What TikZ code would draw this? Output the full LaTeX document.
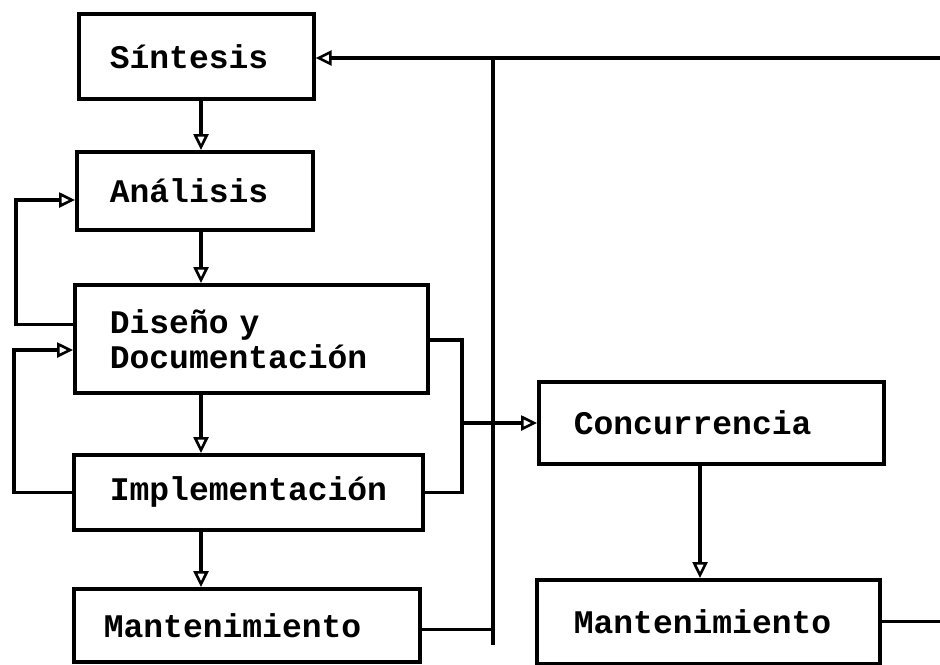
\documentclass[tikz,border=0pt]{standalone}
\usepackage{fontspec}
\setmonofont{Liberation Mono}
\usetikzlibrary{arrows.meta}
\begin{document}
\begin{tikzpicture}[x=0.5pt,y=-0.5pt,
  box/.style={draw, line width=1.8pt, anchor=north west, align=left,
    font=\ttfamily\bfseries\fontsize{16.5}{17.5}\selectfont,
    inner ysep=0pt},
  wire/.style={line width=1.6pt},
  arr/.style={wire, -{Triangle[open,length=8pt,width=7.5pt,line width=1.3pt]}}]
\useasboundingbox (0,0) rectangle (940,664);
% boxes (text width = w - 2*inner xsep)
\node[box, inner xsep=15.5pt, text width=86.5pt, minimum height=42.5pt] (sin) at (77,12) {Síntesis};
\node[box, inner xsep=16.5pt, text width=85pt, minimum height=39pt] (ana) at (75,150) {Análisis};
\node[box, inner xsep=17.5pt, text width=141.5pt, minimum height=54pt] (dis) at (73,283) {Diseño y\\Documentación};
\node[box, inner xsep=18pt, text width=138.5pt, minimum height=37.5pt] (imp) at (72,453) {Implementación};
\node[box, inner xsep=15pt, text width=143pt, minimum height=36.5pt] (manL) at (72,587) {Mantenimiento};
\node[box, inner xsep=17.5pt, text width=137.5pt, minimum height=41pt] (con) at (537,380) {Concurrencia};
\node[box, inner xsep=18.5pt, text width=134.5pt, minimum height=42pt] (manR) at (535,578) {Mantenimiento};
% helper coordinates
\coordinate (c1) at (201,0);
\coordinate (topR) at (940,58);
\coordinate (vt) at (493,58);
\coordinate (vb) at (493,645);
\coordinate (l1) at (16,200);
\coordinate (l2) at (14,350);
\coordinate (r1) at (462,340);
\coordinate (rb) at (462,423);
\coordinate (c2) at (700,0);
\coordinate (outR) at (940,0);
% main chain
\draw[arr] (sin.south -| c1) -- (ana.north -| c1);
\draw[arr] (ana.south -| c1) -- (dis.north -| c1);
\draw[arr] (dis.south -| c1) -- (imp.north -| c1);
\draw[arr] (imp.south -| c1) -- (manL.north -| c1);
% top feedback line
\draw[arr] (topR) -- (topR -| sin.east);
\draw[wire] (vt) -- (vb);
\draw[wire] ([yshift=-2pt]manL.east) -- ([yshift=-2pt]manL.east -| vb);
% left loops
\draw[arr] ([yshift=7pt]dis.west) -| (l1) -- (l1 -| ana.west);
\draw[arr] (imp.west) -| (l2) -- (l2 -| dis.west);
% right bracket to Concurrencia
\draw[wire] (dis.east |- r1) -- (r1) |- (imp.east);
\draw[arr] (rb) -- (rb -| con.west);
% right column
\draw[arr] (con.south -| c2) -- (manR.north -| c2);
\draw[wire] (manR.east) -- (manR.east -| outR);
\end{tikzpicture}
\end{document}
